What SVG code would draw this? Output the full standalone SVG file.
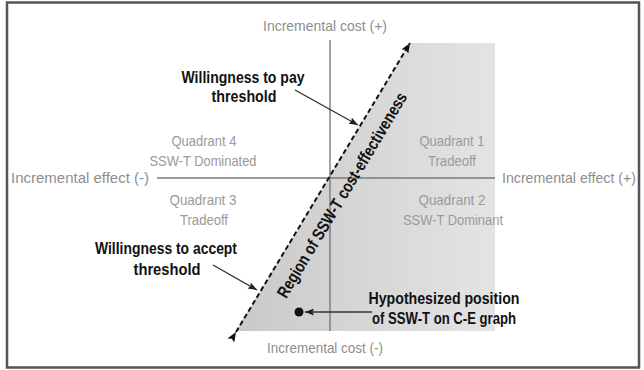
<svg xmlns="http://www.w3.org/2000/svg" width="644" height="370" viewBox="0 0 644 370">
  <defs>
    <linearGradient id="shade" gradientUnits="userSpaceOnUse" x1="236" y1="0" x2="495" y2="0">
      <stop offset="0" stop-color="#c9c9c9"/>
      <stop offset="1" stop-color="#e4e4e4"/>
    </linearGradient>
    <marker id="bigHead" viewBox="0 0 10 8" refX="10" refY="4" markerWidth="10" markerHeight="8" markerUnits="userSpaceOnUse" orient="auto">
      <path d="M0,0 L10,4 L0,8 L2,4 Z" fill="#111"/>
    </marker>
    <marker id="smallHead" viewBox="0 0 9 7" refX="9" refY="3.5" markerWidth="9" markerHeight="7" markerUnits="userSpaceOnUse" orient="auto">
      <path d="M0,0 L9,3.5 L0,7 L1.5,3.5 Z" fill="#222"/>
    </marker>
  </defs>
  <style>
    .gray { font-family: "Liberation Sans", Arial, sans-serif; font-size: 15px; fill: #9a9a9a; text-anchor: middle; }
    .axislbl { font-family: "Liberation Sans", Arial, sans-serif; font-size: 15px; fill: #8e8e8e; }
    .bold { font-family: "Liberation Sans", Arial, sans-serif; font-size: 17px; font-weight: bold; fill: #111; text-anchor: middle; }
    .axis { stroke: #7a7a7a; stroke-width: 1.4; fill: none; }
    .pointer { stroke: #333; stroke-width: 1.4; fill: none; marker-end: url(#smallHead); }
    .threshold { stroke: #111; stroke-width: 2; stroke-dasharray: 5 3; fill: none; marker-start: url(#bigHead); marker-end: url(#bigHead); }
  </style>

  <rect x="0" y="0" width="644" height="370" fill="#ffffff"/>
  <rect id="frame" x="7" y="2.5" width="632" height="365" fill="none" stroke="#555" stroke-width="2.5"/>

  <g id="region-shade">
    <polygon points="410,43 495,43 495,331 236,331" fill="url(#shade)"/>
  </g>

  <g id="axes">
    <line class="axis" x1="330" y1="40" x2="330" y2="331"/>
    <line class="axis" x1="157" y1="178" x2="495" y2="178"/>
  </g>

  <g id="axis-labels">
    <text id="cost-plus" class="axislbl" x="325" y="31" text-anchor="middle" textLength="124" lengthAdjust="spacingAndGlyphs">Incremental cost (+)</text>
    <text id="cost-minus" class="axislbl" x="325" y="353" text-anchor="middle" textLength="116" lengthAdjust="spacingAndGlyphs">Incremental cost (-)</text>
    <text id="effect-minus" class="axislbl" x="149" y="183" text-anchor="end" textLength="138" lengthAdjust="spacingAndGlyphs">Incremental effect (-)</text>
    <text id="effect-plus" class="axislbl" x="502" y="183" text-anchor="start" textLength="134" lengthAdjust="spacingAndGlyphs">Incremental effect (+)</text>
  </g>

  <g id="quadrant4">
    <text class="gray" x="204" y="146" textLength="65" lengthAdjust="spacingAndGlyphs">Quadrant 4</text>
    <text class="gray" x="203" y="166" textLength="107" lengthAdjust="spacingAndGlyphs">SSW-T Dominated</text>
  </g>
  <g id="quadrant1">
    <text class="gray" x="452" y="146" textLength="65" lengthAdjust="spacingAndGlyphs">Quadrant 1</text>
    <text class="gray" x="452" y="166" textLength="48" lengthAdjust="spacingAndGlyphs">Tradeoff</text>
  </g>
  <g id="quadrant3">
    <text class="gray" x="203" y="205" textLength="67" lengthAdjust="spacingAndGlyphs">Quadrant 3</text>
    <text class="gray" x="204" y="225" textLength="48" lengthAdjust="spacingAndGlyphs">Tradeoff</text>
  </g>
  <g id="quadrant2">
    <text class="gray" x="452" y="205" textLength="67" lengthAdjust="spacingAndGlyphs">Quadrant 2</text>
    <text class="gray" x="453" y="225" textLength="100" lengthAdjust="spacingAndGlyphs">SSW-T Dominant</text>
  </g>

  <g id="wtp-label">
    <text class="bold" x="243" y="83" textLength="123" lengthAdjust="spacingAndGlyphs">Willingness to pay</text>
    <text class="bold" x="244" y="102" textLength="65" lengthAdjust="spacingAndGlyphs">threshold</text>
  </g>
  <g id="wta-label">
    <text class="bold" x="166" y="254" textLength="142" lengthAdjust="spacingAndGlyphs">Willingness to accept</text>
    <text class="bold" x="167" y="275" textLength="67" lengthAdjust="spacingAndGlyphs">threshold</text>
  </g>
  <g id="hypothesis-label">
    <text class="bold" x="444" y="304" textLength="151" lengthAdjust="spacingAndGlyphs">Hypothesized position</text>
    <text class="bold" x="444" y="324" textLength="144" lengthAdjust="spacingAndGlyphs">of SSW-T on C-E graph</text>
  </g>
  <g id="region-label">
    <text class="bold" x="347" y="198" transform="rotate(-59 347 198)" textLength="236" lengthAdjust="spacingAndGlyphs">Region of SSW-T cost-effectiveness</text>
  </g>

  <g id="position-dot">
    <circle cx="299" cy="312" r="4.5" fill="#111"/>
  </g>

  <g id="connectors">
    <line id="threshold-line" class="threshold" x1="236" y1="332" x2="410" y2="43"/>
    <line id="wtp-pointer" class="pointer" x1="295" y1="90" x2="358" y2="125"/>
    <line id="wta-pointer" class="pointer" x1="213" y1="265" x2="257" y2="290"/>
    <line id="position-pointer" class="pointer" x1="372" y1="312" x2="305" y2="312"/>
  </g>
</svg>
